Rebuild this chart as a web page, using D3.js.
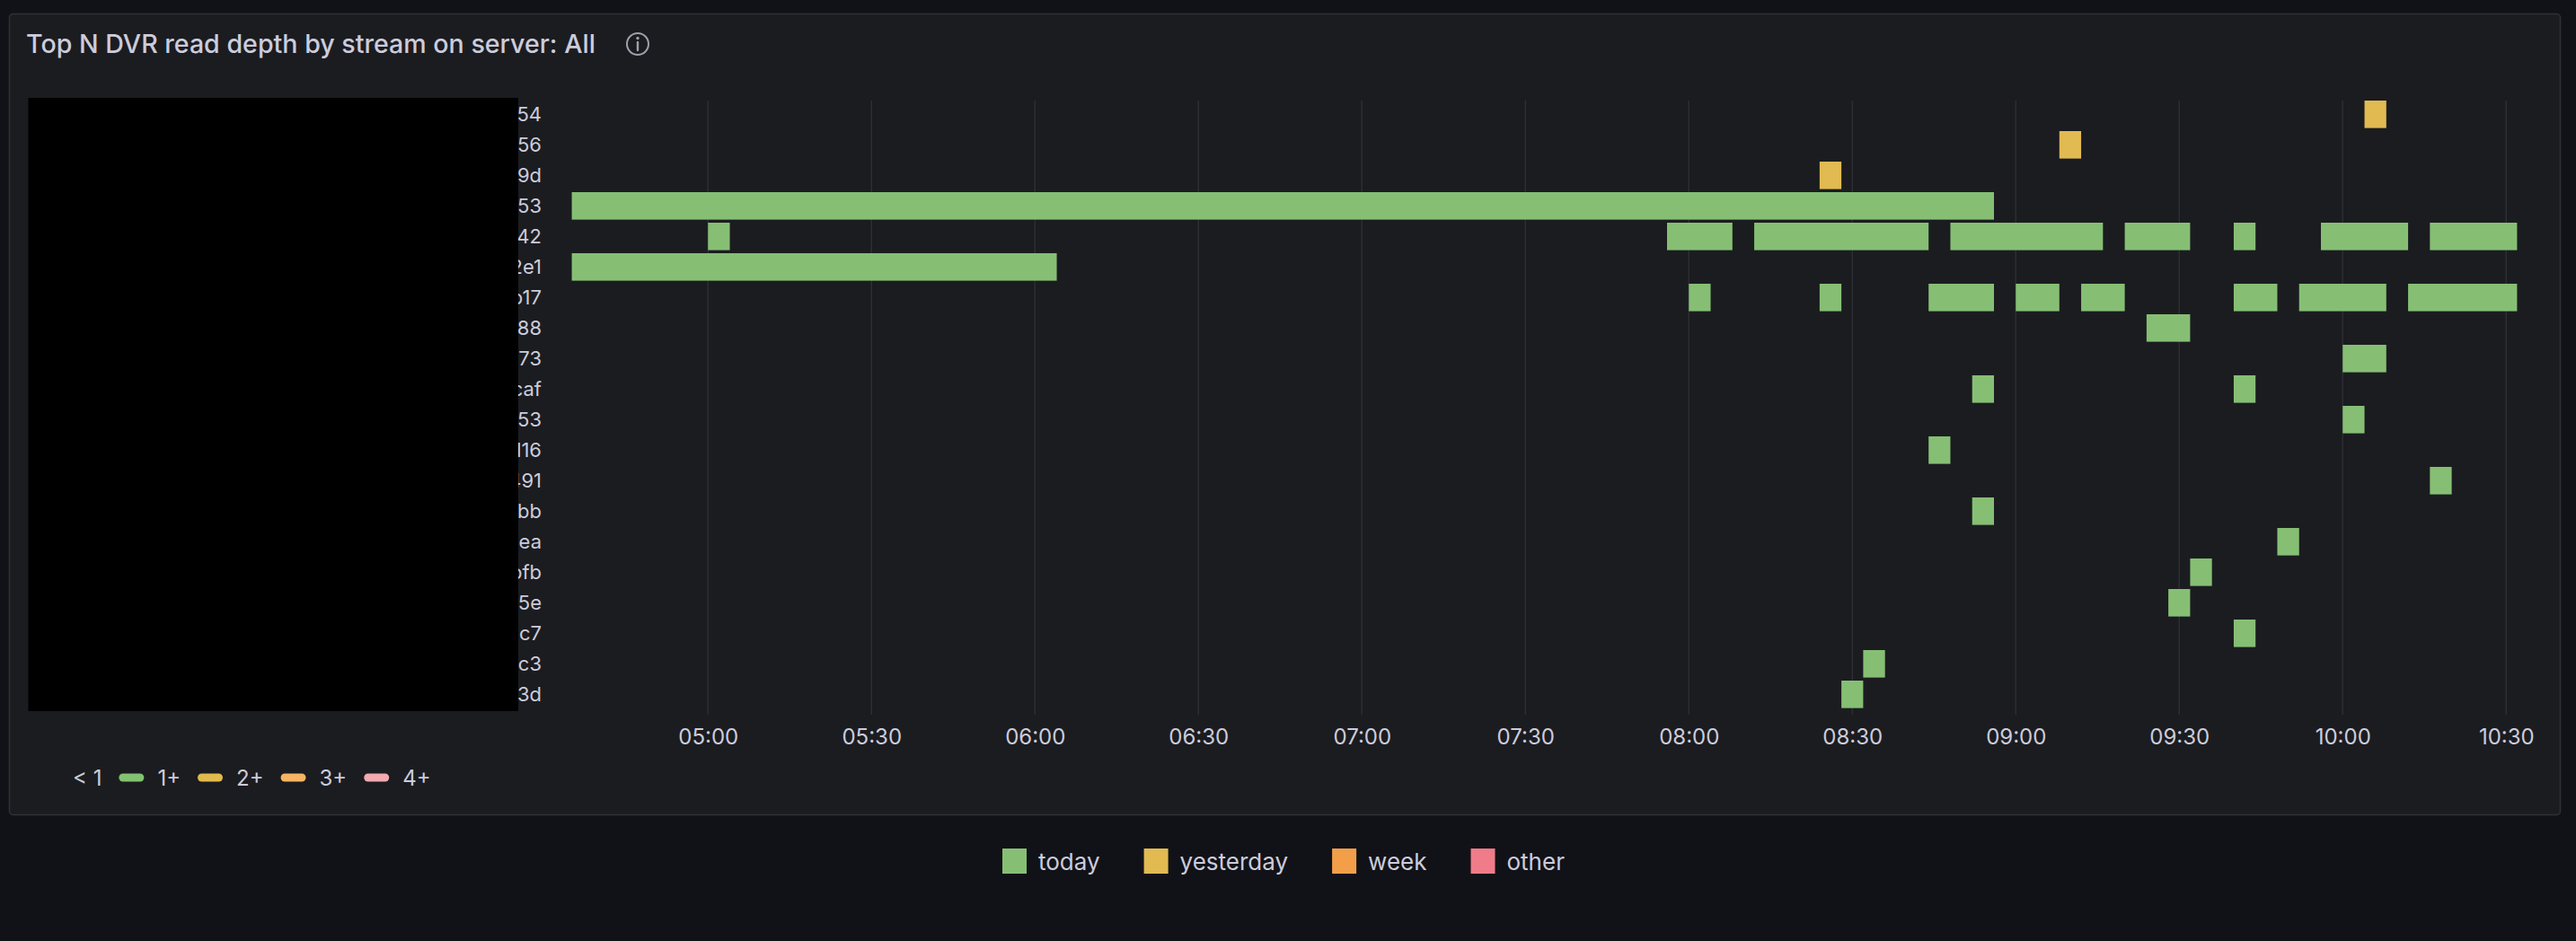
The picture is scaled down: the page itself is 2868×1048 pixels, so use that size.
<!DOCTYPE html>
<html>
<head>
<meta charset="utf-8">
<script src="https://cdn.jsdelivr.net/npm/d3@7"></script>
<style>
  html, body { margin: 0; padding: 0; background: #111217; }
  svg { display: block; font-family: Inter, "Noto Sans", sans-serif; }
</style>
</head>
<body>
<div id="canvas"></div>
<script>
"use strict"

let svgWidth = 2868
let svgHeight = 1048

// row labels (stream ids, the visible tail only)
const streams = ["54", "56", "9d", "53", "42", "2e1", "b17", "88", "73", "caf",
    "53", "d16", "491", "bb", "ea", "bfb", "5e", "c7", "c3", "3d"]

// one entry per drawn segment: row index, start, end, age bucket
const segRow = [0, 1, 2, 3,
    4, 4, 4, 4, 4, 4, 4, 4,
    5,
    6, 6, 6, 6, 6, 6, 6, 6,
    7, 8, 9, 9, 10, 11, 12, 13, 14, 15, 16, 17, 18, 19]
const segStart = ["10:04", "09:08", "08:24", "04:35",
    "05:00", "07:56", "08:12", "08:48", "09:20", "09:40", "09:56", "10:16",
    "04:35",
    "08:00", "08:24", "08:44", "09:00", "09:12", "09:40", "09:52", "10:12",
    "09:24", "10:00", "08:52", "09:40", "10:00", "08:44", "10:16", "08:52", "09:48", "09:32", "09:28", "09:40", "08:32", "08:28"]
const segEnd = ["10:08", "09:12", "08:28", "08:56",
    "05:04", "08:08", "08:44", "09:16", "09:32", "09:44", "10:12", "10:32",
    "06:04",
    "08:04", "08:28", "08:56", "09:08", "09:20", "09:48", "10:08", "10:32",
    "09:32", "10:08", "08:56", "09:44", "10:04", "08:48", "10:20", "08:56", "09:52", "09:36", "09:32", "09:44", "08:36", "08:32"]
const segAge = ["yesterday", "yesterday", "yesterday", "today",
    "today", "today", "today", "today", "today", "today", "today", "today",
    "today",
    "today", "today", "today", "today", "today", "today", "today", "today",
    "today", "today", "today", "today", "today", "today", "today", "today", "today", "today", "today", "today", "today", "today"]

const ageNames = ["today", "yesterday", "week", "other"]
const thresholdLabels = ["< 1", "1+", "2+", "3+", "4+"]
const timeRange = ["04:35", "10:35"]

let parseTime = d3.timeParse("%H:%M")

let svg = d3.select("#canvas")
    .append("svg")
    .attr("width", svgWidth)
    .attr("height", svgHeight)

// panel box
svg.append("rect")
    .attr("x", 10.5).attr("y", 15.5)
    .attr("width", 2840).attr("height", 892)
    .attr("rx", 4)
    .attr("fill", "#1b1c20")
    .attr("stroke", "#2f3137")
    .attr("stroke-width", 1.5)

svg.append("text")
    .attr("x", 29).attr("y", 59)
    .attr("fill", "#ccccdc")
    .style("font-size", "28.6px")
    .style("font-weight", 500)
    .text("Top N DVR read depth by stream on server: All")

// info icon
let info = svg.append("g").attr("transform", "translate(710,49)")
info.append("circle").attr("r", 12).attr("fill", "none").attr("stroke", "#9fa0aa").attr("stroke-width", 2)
info.append("line").attr("x1", 0).attr("x2", 0).attr("y1", -2).attr("y2", 7)
    .attr("stroke", "#9fa0aa").attr("stroke-width", 2.4).attr("stroke-linecap", "round")
info.append("circle").attr("cx", 0).attr("cy", -6.5).attr("r", 1.7).attr("fill", "#9fa0aa")

// scales
let xScale = d3.scaleTime()
    .domain(timeRange.map(parseTime))
    .range([636.6, 2820.6])

let yScale = d3.scaleBand()
    .domain(d3.range(streams.length))
    .range([110.3, 790.3])
    .paddingInner(0.1)
    .paddingOuter(0.05)

let colorScale = d3.scaleOrdinal()
    .domain(ageNames)
    .range(["#86bf74", "#e1ba52", "#f39f4a", "#f07c89"])

let thresholdColors = ["#82c270", "#e1ba4e", "#f7b462", "#f2a9b0"]

// grid
let ticks = xScale.ticks(d3.timeMinute.every(30))
svg.append("g").selectAll("line")
    .data(ticks)
    .join("line")
    .attr("x1", d => xScale(d)).attr("x2", d => xScale(d))
    .attr("y1", 112).attr("y2", 796)
    .attr("stroke", "#2c2e33")
    .attr("stroke-width", 1.5)

// x axis
let xAxis = d3.axisBottom(xScale)
    .ticks(d3.timeMinute.every(30))
    .tickFormat(d3.timeFormat("%H:%M"))
    .tickSize(0)

let axisG = svg.append("g")
    .attr("transform", "translate(0,820.5)")
    .call(xAxis)
axisG.select(".domain").remove()
axisG.selectAll("text")
    .attr("y", 0).attr("dy", null)
    .attr("dominant-baseline", "central")
    .attr("fill", "#ccccdc")
    .style("font-size", "24px")
    .style("font-family", "Inter, sans-serif")

// row labels
svg.append("g").selectAll("text")
    .data(streams)
    .join("text")
    .attr("x", 603)
    .attr("y", (d, i) => yScale(i) + yScale.bandwidth() / 2)
    .attr("text-anchor", "end")
    .attr("dominant-baseline", "central")
    .attr("fill", "#ccccdc")
    .style("font-size", "22px")
    .text(d => d)

// redaction block over the label column
svg.append("rect")
    .attr("x", 31.5).attr("y", 109)
    .attr("width", 545.5).attr("height", 683)
    .attr("fill", "#000")

// segments
let segments = segRow.map((r, i) => ({
    row: r,
    start: parseTime(segStart[i]),
    end: parseTime(segEnd[i]),
    age: segAge[i]
}))

svg.append("g").selectAll("rect")
    .data(segments)
    .join("rect")
    .attr("x", d => xScale(d.start))
    .attr("y", d => yScale(d.row))
    .attr("width", d => xScale(d.end) - xScale(d.start))
    .attr("height", yScale.bandwidth())
    .attr("fill", d => colorScale(d.age))

// threshold legend (bottom-left)
let tl = svg.append("g").attr("transform", "translate(81,866)")
let cx = 0
thresholdLabels.forEach(function (label, i) {
    if (i > 0) {
        tl.append("rect")
            .attr("x", cx).attr("y", -4.5)
            .attr("width", 28).attr("height", 9)
            .attr("rx", 4.5)
            .attr("fill", thresholdColors[i - 1])
        cx += 28 + 15
    }
    let t = tl.append("text")
        .attr("x", cx).attr("y", 0)
        .attr("dominant-baseline", "central")
        .attr("fill", "#ccccdc")
        .style("font-size", "24px")
        .text(label)
    cx += t.node().getComputedTextLength() + 19
})

// age legend (bottom centre)
let lg = svg.append("g").attr("transform", "translate(1116,0)")
let lx = 0
ageNames.forEach(function (name) {
    lg.append("rect")
        .attr("x", lx).attr("y", 945)
        .attr("width", 27).attr("height", 28)
        .attr("fill", colorScale(name))
    let t = lg.append("text")
        .attr("x", lx + 40).attr("y", 959)
        .attr("dominant-baseline", "central")
        .attr("fill", "#ccccdc")
        .style("font-size", "26px")
        .text(name)
    lx += 40 + t.node().getComputedTextLength() + 49
})
</script>
</body>
</html>
